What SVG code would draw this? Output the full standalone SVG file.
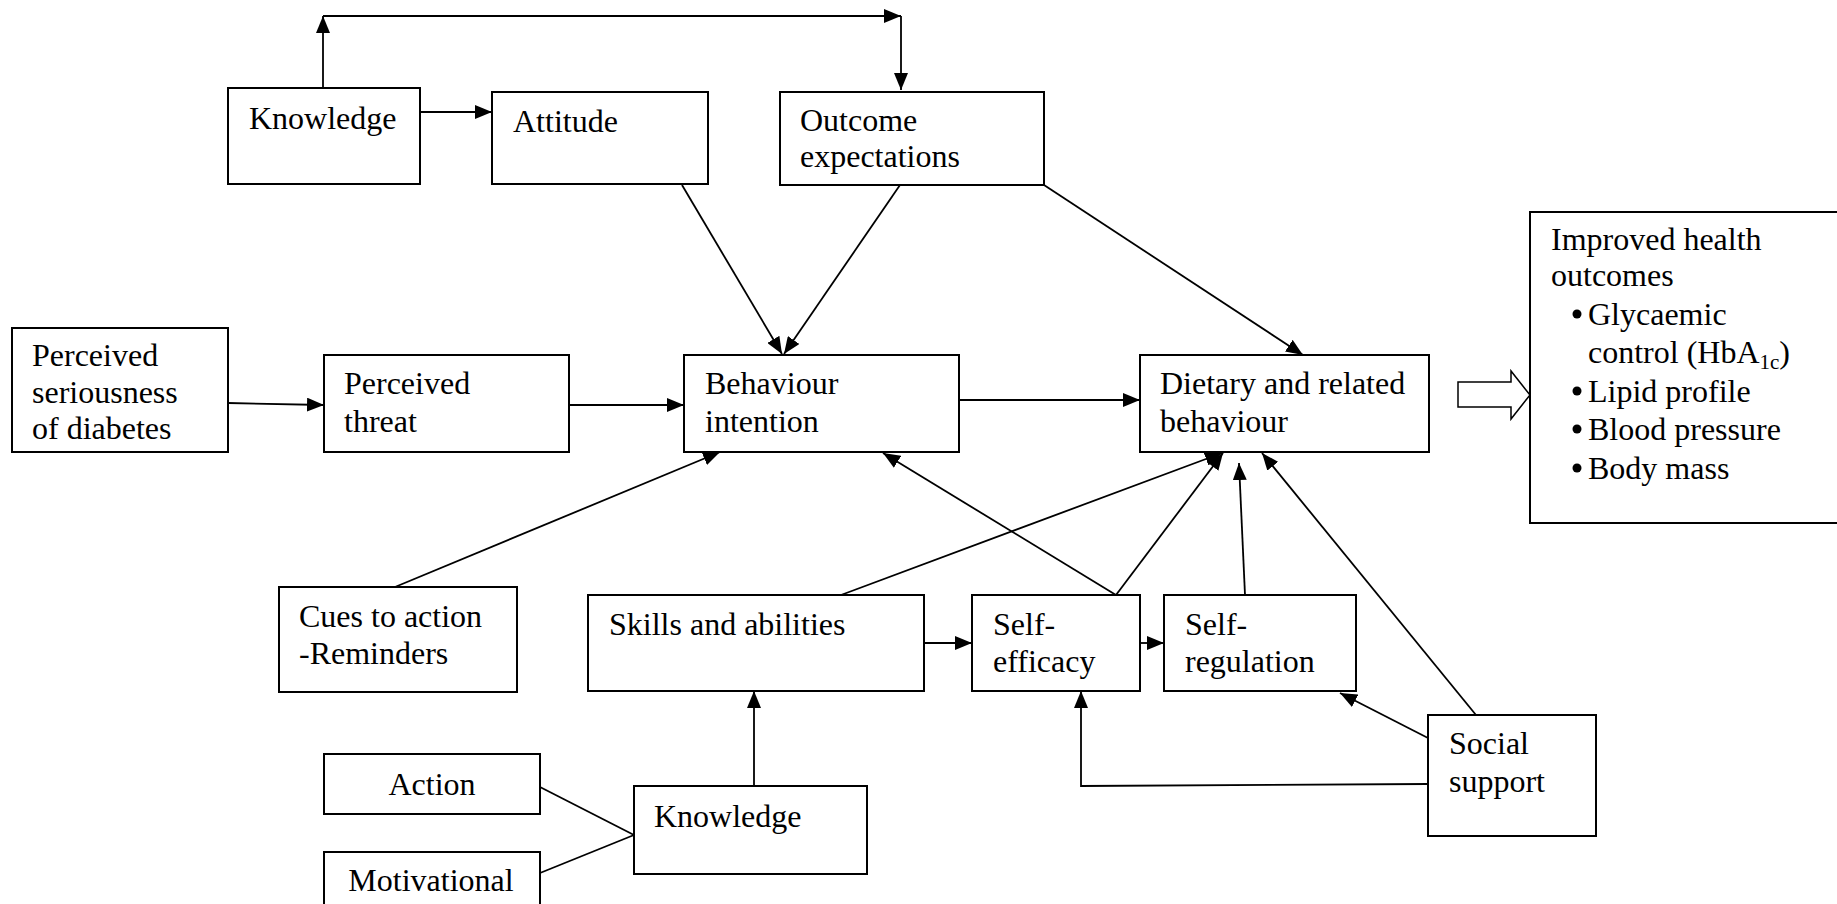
<svg xmlns="http://www.w3.org/2000/svg" width="1837" height="904" viewBox="0 0 1837 904">
<style>
.box{fill:#fff;stroke:#000;stroke-width:2}
.t{font-family:"Liberation Serif","Times New Roman",serif;font-size:32px;fill:#000}
.c{fill:none;stroke:#000;stroke-width:1.8}
.a{marker-end:url(#ah)}
</style>
<defs>
<marker id="ah" markerUnits="userSpaceOnUse" markerWidth="18" markerHeight="14" refX="17" refY="7" orient="auto" viewBox="0 0 18 14">
<path d="M0,0 L17,7 L0,14 z" fill="#000"/>
</marker>
</defs>
<rect width="1837" height="904" fill="#fff"/>
<g id="connectors">
<path class="c a" d="M323,88 L323,16"/>
<path class="c a" d="M323,16 L901,16"/>
<path class="c a" d="M901,16 L901,90"/>
<path class="c a" d="M420,112 L492,112"/>
<path class="c a" d="M682,185 L782,354"/>
<path class="c a" d="M900,185 L784,354"/>
<path class="c a" d="M1044,185 L1303,355"/>
<path class="c a" d="M228,403 L324,405"/>
<path class="c a" d="M569,405 L684,405"/>
<path class="c a" d="M959,400 L1140,400"/>
<path class="c a" d="M395,587 L720,452"/>
<path class="c a" d="M841,595 L1222,453"/>
<path class="c a" d="M1116,595 L883,453"/>
<path class="c a" d="M1116,595 L1223,453"/>
<path class="c a" d="M1245,595 L1239,463"/>
<path class="c a" d="M1476,715 L1262,453"/>
<path class="c a" d="M1428,738 L1340,693"/>
<path class="c a" d="M1428,784 L1081,786 L1081,691"/>
<path class="c a" d="M924,643 L972,643"/>
<path class="c a" d="M1140,643 L1164,643"/>
<path class="c a" d="M754,786 L754,691"/>
<path class="c" d="M540,787 L634,835"/>
<path class="c" d="M540,873 L634,835"/>
<polygon points="1458,382 1511,382 1511,371 1530,395 1511,419 1511,407 1458,407" fill="#fff" stroke="#000" stroke-width="1.5"/>
</g>
<g id="knowledge1"><rect class="box" x="228" y="88" width="192" height="96"/><text class="t" x="249" y="129">Knowledge</text></g>
<g id="attitude"><rect class="box" x="492" y="92" width="216" height="92"/><text class="t" x="513" y="132">Attitude</text></g>
<g id="outcome"><rect class="box" x="780" y="92" width="264" height="93"/><text class="t" x="800" y="131">Outcome</text><text class="t" x="800" y="167">expectations</text></g>
<g id="seriousness"><rect class="box" x="12" y="328" width="216" height="124"/><text class="t" x="32" y="366">Perceived</text><text class="t" x="32" y="403">seriousness</text><text class="t" x="32" y="439">of diabetes</text></g>
<g id="threat"><rect class="box" x="324" y="355" width="245" height="97"/><text class="t" x="344" y="394">Perceived</text><text class="t" x="344" y="432">threat</text></g>
<g id="intention"><rect class="box" x="684" y="355" width="275" height="97"/><text class="t" x="705" y="394">Behaviour</text><text class="t" x="705" y="432">intention</text></g>
<g id="dietary"><rect class="box" x="1140" y="355" width="289" height="97"/><text class="t" x="1160" y="394">Dietary and related</text><text class="t" x="1160" y="432">behaviour</text></g>
<g id="outcomes"><rect class="box" x="1530" y="212" width="330" height="311"/>
<text class="t" x="1551" y="250">Improved health</text><text class="t" x="1551" y="286">outcomes</text>
<circle cx="1577" cy="314" r="4.5"/><text class="t" x="1588" y="325">Glycaemic</text>
<text class="t" x="1588" y="363">control (HbA<tspan font-size="21" dy="6">1c</tspan><tspan dy="-6">)</tspan></text>
<circle cx="1577" cy="391" r="4.5"/><text class="t" x="1588" y="402">Lipid profile</text>
<circle cx="1577" cy="429" r="4.5"/><text class="t" x="1588" y="440">Blood pressure</text>
<circle cx="1577" cy="468" r="4.5"/><text class="t" x="1588" y="479">Body mass</text></g>
<g id="cues"><rect class="box" x="279" y="587" width="238" height="105"/><text class="t" x="299" y="627">Cues to action</text><text class="t" x="299" y="664">-Reminders</text></g>
<g id="skills"><rect class="box" x="588" y="595" width="336" height="96"/><text class="t" x="609" y="635">Skills and abilities</text></g>
<g id="selfefficacy"><rect class="box" x="972" y="595" width="168" height="96"/><text class="t" x="993" y="635">Self-</text><text class="t" x="993" y="672">efficacy</text></g>
<g id="selfregulation"><rect class="box" x="1164" y="595" width="192" height="96"/><text class="t" x="1185" y="635">Self-</text><text class="t" x="1185" y="672">regulation</text></g>
<g id="social"><rect class="box" x="1428" y="715" width="168" height="121"/><text class="t" x="1449" y="754">Social</text><text class="t" x="1449" y="792">support</text></g>
<g id="action"><rect class="box" x="324" y="754" width="216" height="60"/><text class="t" x="432" y="795" text-anchor="middle">Action</text></g>
<g id="motivational"><rect class="box" x="324" y="852" width="216" height="80"/><text class="t" x="431" y="891" text-anchor="middle">Motivational</text></g>
<g id="knowledge2"><rect class="box" x="634" y="786" width="233" height="88"/><text class="t" x="654" y="827">Knowledge</text></g>
</svg>
